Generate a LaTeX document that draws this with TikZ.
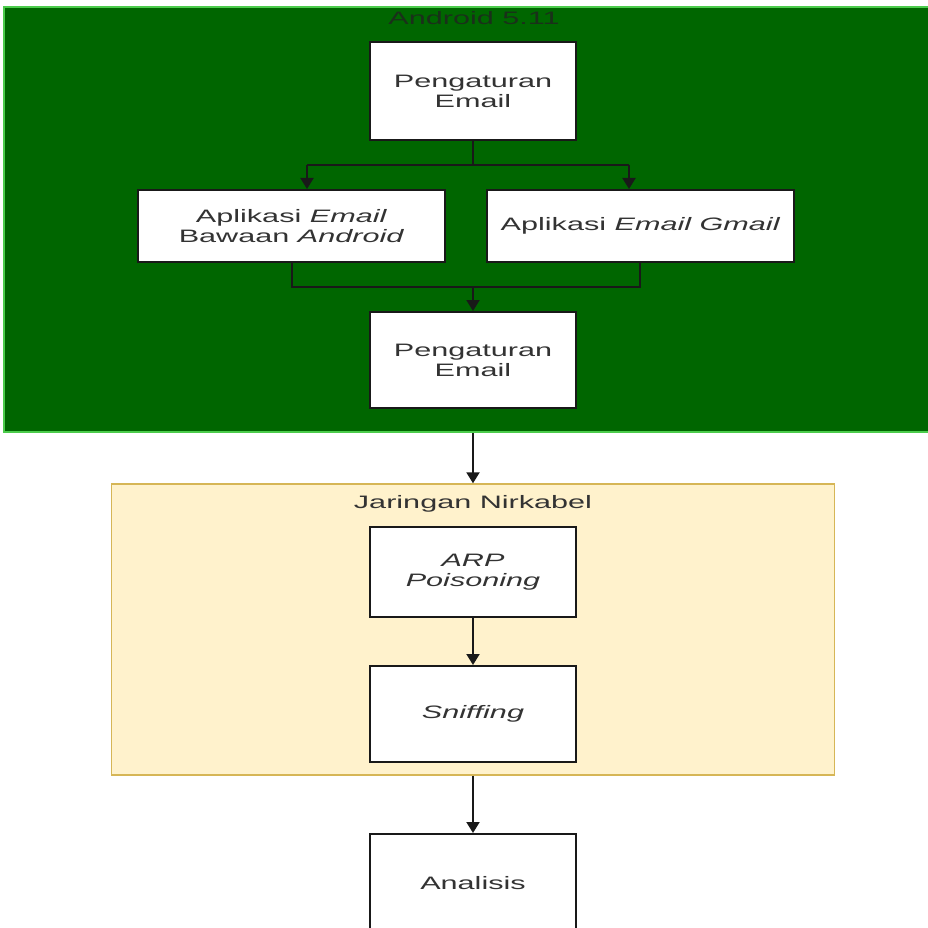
\documentclass[tikz,border=0pt]{standalone}
\usepackage{fontspec}
\setmainfont[FakeStretch=1.7]{Liberation Sans}
\usetikzlibrary{arrows.meta}
\definecolor{grfill}{HTML}{006600}
\definecolor{grline}{HTML}{4CCC4C}
\definecolor{yefill}{HTML}{FFF2CC}
\definecolor{yeline}{HTML}{D6B656}
\definecolor{txt}{HTML}{333333}
\definecolor{ttl}{HTML}{1A301A}
\begin{document}
\begin{tikzpicture}[x=1pt,y=-1pt,
  every node/.style={font=\fontsize{18pt}{20pt}\selectfont, text=txt},
  box/.style={draw=black!90, line width=2pt, fill=white, align=center, inner sep=0pt},
  grcont/.style={draw=grline, line width=2pt, fill=grfill, inner sep=0pt},
  yecont/.style={draw=yeline, line width=1.4pt, fill=yefill, inner sep=0pt},
  conn/.style={line width=2pt, draw=black!90},
  arr/.style={conn, -{Triangle[length=11pt,width=13pt]}}
]
\useasboundingbox (0,0) rectangle (928,928);
% containers
\node[grcont, minimum width=940pt, minimum height=425pt] (green) at (474,219.5) {};
\node[text=ttl] (gtitle) at (474,18) {Android 5.11};
\node[yecont, minimum width=723pt, minimum height=291pt] (yellow) at (473,629.5) {};
\node (ytitle) at (473,504) {Jaringan Nirkabel};
% boxes
\node[box, minimum width=206pt, minimum height=98pt] (p1) at (473,91.5) {Pengaturan\\Email};
\node[box, minimum width=307pt, minimum height=72pt] (appl) at (291.5,226) {Aplikasi \textit{Email}\\Bawaan \textit{Android}};
\node[box, minimum width=307pt, minimum height=72pt] (appr) at (640.5,226) {Aplikasi \textit{Email Gmail}};
\node[box, minimum width=206pt, minimum height=96pt] (p2) at (473,360) {Pengaturan\\Email};
\node[box, minimum width=206pt, minimum height=90pt] (arp) at (473,572) {\textit{ARP}\\\textit{Poisoning}};
\node[box, minimum width=206pt, minimum height=96pt] (snf) at (473,714) {\textit{Sniffing}};
\node[box, minimum width=206pt, minimum height=130pt] (ana) at (473,899) {};
\node (anat) at (473,883) {Analisis};
% connectors
\coordinate (s1) at (473,165);
\coordinate (sl) at (307,165);
\coordinate (sr) at (629,165);
\draw[conn] (p1.south) -- (s1);
\draw[conn] (sl) -- (sr);
\draw[arr] (sl) -- (sl |- appl.north);
\draw[arr] (sr) -- (sr |- appr.north);
\coordinate (jl) at (292,287);
\coordinate (jr) at (640,287);
\coordinate (jm) at (473,287);
\draw[conn] (jl |- appl.south) -- (jl) -- (jr) -- (jr |- appr.south);
\draw[arr] (jm) -- (p2.north);
\draw[arr] (green.south -| p2.south) -- (yellow.north -| p2.south);
\draw[arr] (arp.south) -- (snf.north);
\draw[arr] (yellow.south -| snf.south) -- (ana.north);
\end{tikzpicture}
\end{document}
